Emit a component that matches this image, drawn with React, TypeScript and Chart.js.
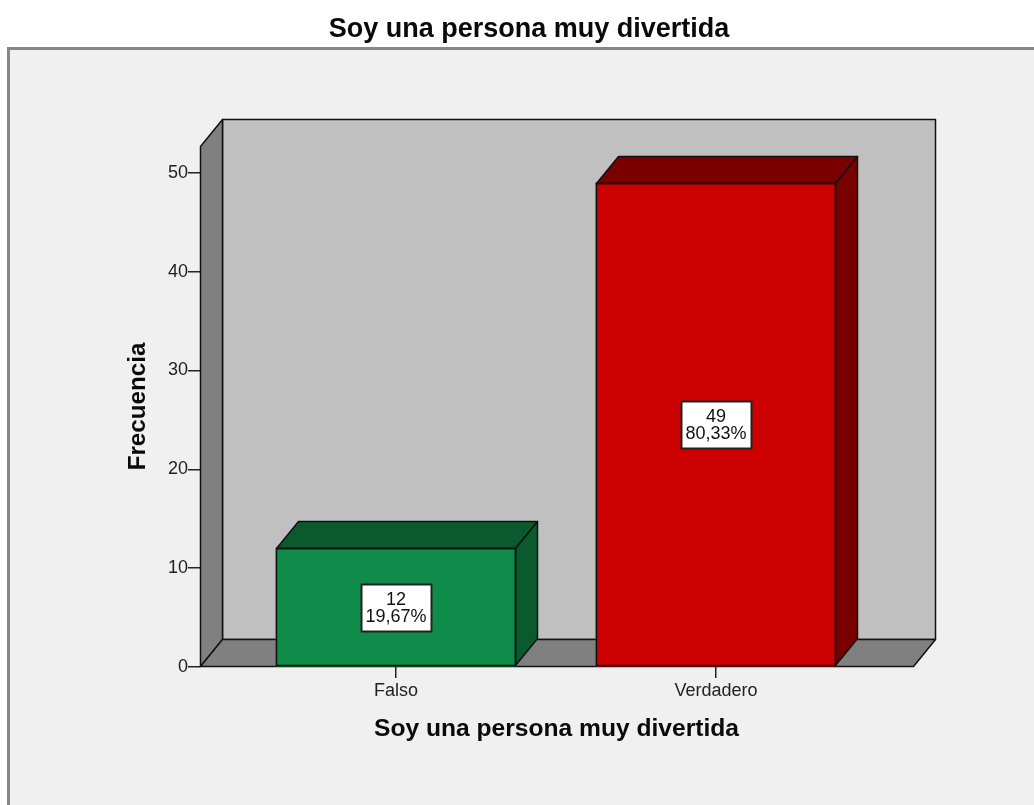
import React, { useEffect, useRef } from 'react';
import { Chart, registerables } from 'chart.js';

Chart.register(...registerables);

// ---- data ----
const categories = ['Falso', 'Verdadero'];
const counts = [12, 49];
const yTicks = [0, 10, 20, 30, 40, 50];
const frontColors = ['#0f8c49', '#cc0000'];
const darkColors = ['#0a5a2e', '#7a0000'];
const chartTitle = 'Soy una persona muy divertida';
const xTitle = 'Soy una persona muy divertida';
const yTitle = 'Frecuencia';

// ---- styling ----
const FONT = '"Liberation Sans", Arial, sans-serif';
const DX = 22;
const DY = 27;
const EDGE = 1.5;

function poly(ctx: CanvasRenderingContext2D, pts: number[][], fill: string) {
  ctx.beginPath();
  ctx.moveTo(pts[0][0], pts[0][1]);
  for (let i = 1; i < pts.length; i++) ctx.lineTo(pts[i][0], pts[i][1]);
  ctx.closePath();
  ctx.fillStyle = fill;
  ctx.fill();
  ctx.stroke();
}

const threeD = {
  id: 'threeD',
  beforeDatasetsDraw(chart: any) {
    const { ctx, chartArea: a } = chart;
    const L = Math.round(a.left) + 0.5;
    const R = Math.round(a.right) + 0.5;
    const T = Math.round(a.top) + 0.5;
    const B = Math.round(a.bottom) - 0.5;
    ctx.save();
    ctx.lineWidth = EDGE;
    ctx.lineJoin = 'round';
    ctx.strokeStyle = '#111';
    poly(ctx, [[L + DX, T - DY], [R + DX, T - DY], [R + DX, B - DY], [L + DX, B - DY]], '#c0c0c0');
    poly(ctx, [[L, T], [L + DX, T - DY], [L + DX, B - DY], [L, B]], '#808080');
    poly(ctx, [[L, B], [L + DX, B - DY], [R + DX, B - DY], [R, B]], '#808080');
    ctx.restore();
  },
  afterDatasetsDraw(chart: any) {
    const { ctx } = chart;
    const meta = chart.getDatasetMeta(0);
    const total = counts.reduce((s, v) => s + v, 0);
    ctx.save();
    ctx.lineWidth = EDGE;
    ctx.lineJoin = 'round';
    ctx.strokeStyle = '#111';
    meta.data.forEach((bar: any, i: number) => {
      const { x, y, base, width } = bar.getProps(['x', 'y', 'base', 'width'], true);
      const l = Math.round(x - width / 2) + 0.5;
      const r = Math.round(x + width / 2) - 0.5;
      const t = Math.round(y) + 0.5;
      const b = Math.round(base) - 0.5;
      poly(ctx, [[l, t], [l + DX, t - DY], [r + DX, t - DY], [r, t]], darkColors[i]);
      poly(ctx, [[r, t], [r + DX, t - DY], [r + DX, b - DY], [r, b]], darkColors[i]);
      // front outline
      ctx.strokeRect(l, t, r - l, b - t);
    });
    // value labels
    meta.data.forEach((bar: any, i: number) => {
      const { x, y, base } = bar.getProps(['x', 'y', 'base'], true);
      const cx = x;
      const cy = (y + base) / 2;
      const bw = 70;
      const bh = 47;
      const bx = Math.round(cx - bw / 2) + 0.5;
      const by = Math.round(cy - bh / 2) + 0.5;
      ctx.fillStyle = '#ffffff';
      ctx.fillRect(bx, by, bw, bh);
      ctx.lineWidth = 2;
      ctx.strokeStyle = '#222';
      ctx.strokeRect(bx, by, bw, bh);
      const pct = ((counts[i] / total) * 100).toFixed(2).replace('.', ',') + '%';
      ctx.fillStyle = '#111';
      ctx.font = `18px ${FONT}`;
      ctx.textAlign = 'center';
      ctx.textBaseline = 'middle';
      ctx.fillText(String(counts[i]), cx, cy - 7);
      ctx.fillText(pct, cx, cy + 9.5);
    });
    ctx.restore();
  },
  afterDraw(chart: any) {
    const { ctx } = chart;
    ctx.save();
    ctx.fillStyle = '#0a0a0a';
    ctx.font = `bold 27px ${FONT}`;
    ctx.textAlign = 'center';
    ctx.textBaseline = 'middle';
    ctx.fillText(chartTitle, 529, 30);
    ctx.restore();
  },
};

export default function App() {
  const ref = useRef<HTMLCanvasElement>(null);

  useEffect(() => {
    const chart = new Chart(ref.current as HTMLCanvasElement, {
      type: 'bar',
      data: {
        datasets: [
          {
            data: categories.map((c, i) => ({ x: i + 1, y: counts[i] })),
            backgroundColor: frontColors,
            borderColor: '#111',
            borderWidth: 0,
            barThickness: 240,
          } as any,
        ],
      },
      options: {
        animation: false,
        responsive: false,
        devicePixelRatio: 1,
        layout: { padding: { top: 146, right: 121, left: 0, bottom: 0 } },
        plugins: {
          legend: { display: false },
          tooltip: { enabled: false },
          title: { display: false },
        },
        scales: {
          x: {
            type: 'linear',
            offset: false,
            min: 0.3875,
            max: 2.6156,
            afterBuildTicks: (s: any) => {
              s.ticks = categories.map((_, i) => ({ value: i + 1 }));
            },
            afterFit: (s: any) => {
              s.height = 138;
            },
            grid: { offset: false, drawOnChartArea: false, drawTicks: true, tickLength: 11, color: '#222', lineWidth: 1.5 },
            border: { display: false },
            ticks: {
              callback: (v: any) => categories[Math.round(Number(v)) - 1] ?? '',
              font: { family: FONT, size: 18 },
              color: '#222',
              padding: 2,
              autoSkip: false,
              maxRotation: 0,
            },
            title: {
              display: true,
              text: xTitle,
              color: '#0a0a0a',
              font: { family: FONT, size: 24.6, weight: 'bold' },
              padding: { top: 0, bottom: 61.2 },
            },
          },
          y: {
            min: 0,
            max: 52.7,
            afterBuildTicks: (s: any) => {
              s.ticks = yTicks.map((v) => ({ value: v }));
            },
            afterFit: (s: any) => {
              s.width = 200;
            },
            grid: { drawOnChartArea: false, drawTicks: true, tickLength: 12, color: '#222', lineWidth: 1.5 },
            border: { display: false },
            ticks: {
              font: { family: FONT, size: 18 },
              color: '#222',
              padding: 0,
            },
            title: {
              display: true,
              text: yTitle,
              color: '#0a0a0a',
              font: { family: FONT, size: 24.2, weight: 'bold' },
              padding: { top: 123.6, bottom: 0 },
            },
          },
        },
      } as any,
      plugins: [threeD],
    });
    return () => chart.destroy();
  }, []);

  return (
    <div
      style={{
        position: 'fixed',
        left: 0,
        top: 0,
        width: 1034,
        height: 805,
        background: '#ffffff',
        overflow: 'hidden',
      }}
    >
      <div
        style={{
          position: 'absolute',
          left: 7,
          top: 47,
          width: 1100,
          height: 800,
          background: '#f0f0f0',
          borderLeft: '3px solid #868686',
          borderTop: '3px solid #868686',
        }}
      />
      <canvas
        ref={ref}
        width={1034}
        height={805}
        style={{ position: 'absolute', left: 0, top: 0, width: 1034, height: 805 }}
      />
    </div>
  );
}
